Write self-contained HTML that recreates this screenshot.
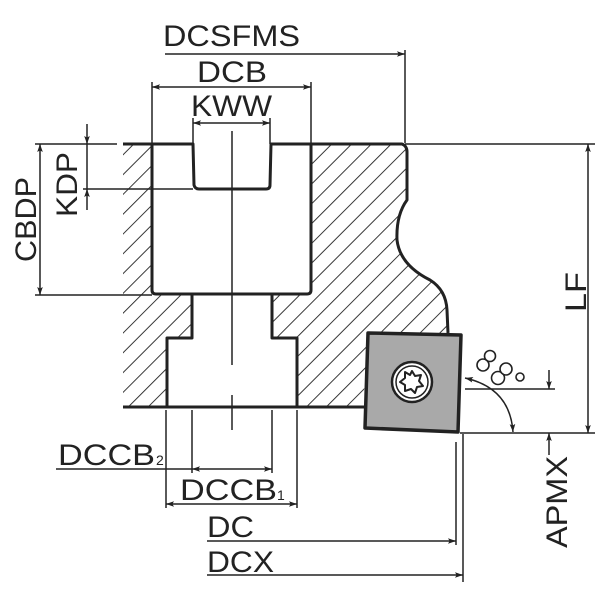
<!DOCTYPE html>
<html><head><meta charset="utf-8"><style>
html,body{margin:0;padding:0;background:#fff;}
svg{display:block;}
text{font-family:"Liberation Sans",sans-serif;fill:#222;}
</style></head><body>
<svg width="600" height="600" viewBox="0 0 600 600" xmlns="http://www.w3.org/2000/svg">
<defs>
<pattern id="h" patternUnits="userSpaceOnUse" width="14" height="14" patternTransform="rotate(45)">
<line x1="0" y1="0" x2="0" y2="14" stroke="#222" stroke-width="1.8"/>
</pattern>
<marker id="a" viewBox="0 0 10 10" refX="10" refY="5" markerWidth="10" markerHeight="8" orient="auto-start-reverse" markerUnits="userSpaceOnUse">
<path d="M0,1.5 L10,5 L0,8.5 L2,5 Z" fill="#222"/>
</marker>
</defs>

<path d="M123,144 L152,144 L152,294 L192,294 L192,338 L167,338 L167,407 L123,407 Z" fill="url(#h)"/>
<path d="M311,144 L402,144 Q407,146 407,152 L407,200 Q396,215 397,240 Q400,265 430,280 Q446,290 447,310 L448,333 L368,333 L363,407 L297,407 L297,338 L272,338 L272,294 L311,294 Z" fill="url(#h)"/>

<g fill="none" stroke="#222" stroke-width="3" stroke-linejoin="round">
<path d="M123,144 L193,144 L194,185 Q195,189 199,189 L266,189 Q270,189 270,185 L271,144 L402,144 Q407,146 407,152 L407,200 Q396,215 397,240 Q400,265 430,280 Q446,290 447,310 L448,333"/>
<path d="M152,144 L152,290 Q152,294 156,294 L307,294 Q311,294 311,290 L311,144"/>
<path d="M192,294 L192,338 L167,338 L167,407"/>
<path d="M272,294 L272,338 L297,338 L297,407"/>
<path d="M123,407 L365,407"/>
</g>

<path d="M368,333 L461,335 L458,432 L365,428 Z" fill="#a9a9a9" stroke="#222" stroke-width="3.5" stroke-linejoin="round"/>
<circle cx="412" cy="382" r="20" fill="#fff" stroke="#222" stroke-width="2.5"/>
<circle cx="412" cy="382" r="16" fill="none" stroke="#222" stroke-width="1.5"/>
<path d="M412,371 L415,376 L421,375 L419,381 L423,386 L417,387 L415,393 L411,389 L405,391 L405,385 L400,382 L405,378 L405,372 L410,375 Z" fill="none" stroke="#222" stroke-width="2" stroke-linejoin="round"/>

<g fill="#fff" stroke="#222" stroke-width="1.6">
<circle cx="483" cy="365" r="6"/><circle cx="490" cy="356" r="5.5"/>
<circle cx="498" cy="378" r="6.5"/><circle cx="506" cy="369" r="6"/>
<circle cx="520" cy="377" r="4"/>
</g>

<g stroke="#222" stroke-width="1.5" fill="none">
<line x1="232" y1="131" x2="232" y2="365"/>
<line x1="232" y1="395" x2="232" y2="430"/>
<line x1="165" y1="54" x2="405" y2="54" marker-end="url(#a)"/>
<line x1="405" y1="50" x2="405" y2="143"/>
<line x1="152" y1="87" x2="311" y2="87" marker-start="url(#a)" marker-end="url(#a)"/>
<line x1="152" y1="82" x2="152" y2="144"/>
<line x1="311" y1="82" x2="311" y2="144"/>
<line x1="193" y1="123" x2="270" y2="123" marker-start="url(#a)" marker-end="url(#a)"/>
<line x1="193" y1="118" x2="193" y2="144"/>
<line x1="270" y1="118" x2="270" y2="144"/>
<line x1="35" y1="144" x2="117" y2="144"/>
<line x1="35" y1="295" x2="152" y2="295"/>
<line x1="40" y1="144" x2="40" y2="295" marker-start="url(#a)" marker-end="url(#a)"/>
<line x1="83" y1="189" x2="193" y2="189"/>
<line x1="87" y1="124" x2="87" y2="144" marker-end="url(#a)"/>
<line x1="87" y1="210" x2="87" y2="189" marker-end="url(#a)"/>
<line x1="87" y1="144" x2="87" y2="189"/>
<line x1="405" y1="144" x2="595" y2="144"/>
<line x1="460" y1="433" x2="595" y2="433"/>
<line x1="588" y1="144" x2="588" y2="433" marker-start="url(#a)" marker-end="url(#a)"/>
<line x1="465" y1="389" x2="555" y2="389"/>
<line x1="549" y1="370" x2="549" y2="389" marker-end="url(#a)"/>
<line x1="549" y1="455" x2="549" y2="433" marker-end="url(#a)"/>
<path d="M465,378 Q510,388 513,432" marker-start="url(#a)" marker-end="url(#a)"/>
<line x1="192" y1="410" x2="192" y2="473"/>
<line x1="272" y1="410" x2="272" y2="473"/>
<line x1="56" y1="469" x2="192" y2="469"/>
<line x1="192" y1="469" x2="272" y2="469" marker-start="url(#a)" marker-end="url(#a)"/>
<line x1="166" y1="410" x2="166" y2="508"/>
<line x1="297" y1="410" x2="297" y2="508"/>
<line x1="166" y1="504" x2="297" y2="504" marker-start="url(#a)" marker-end="url(#a)"/>
<line x1="456" y1="442" x2="456" y2="545"/>
<line x1="463" y1="434" x2="463" y2="582"/>
<line x1="207" y1="541" x2="456" y2="541" marker-end="url(#a)"/>
<line x1="207" y1="575" x2="463" y2="575" marker-end="url(#a)"/>
</g>

<g font-size="30">
<text x="163" y="46" textLength="137" lengthAdjust="spacingAndGlyphs">DCSFMS</text>
<text x="197" y="82" textLength="70" lengthAdjust="spacingAndGlyphs">DCB</text>
<text x="191" y="116" textLength="81" lengthAdjust="spacingAndGlyphs">KWW</text>
<text transform="translate(36,262) rotate(-90)" textLength="85" lengthAdjust="spacingAndGlyphs">CBDP</text>
<text transform="translate(77,217) rotate(-90)" textLength="65" lengthAdjust="spacingAndGlyphs">KDP</text>
<text transform="translate(586,312) rotate(-90)" textLength="40" lengthAdjust="spacingAndGlyphs">LF</text>
<text transform="translate(567,548) rotate(-90)" textLength="92" lengthAdjust="spacingAndGlyphs">APMX</text>
<text x="58" y="465" textLength="97" lengthAdjust="spacingAndGlyphs">DCCB</text>
<text x="156" y="465" font-size="14">2</text>
<text x="180" y="500" textLength="97" lengthAdjust="spacingAndGlyphs">DCCB</text>
<text x="277" y="500" font-size="14">1</text>
<text x="207" y="537" textLength="47" lengthAdjust="spacingAndGlyphs">DC</text>
<text x="207" y="572" textLength="67" lengthAdjust="spacingAndGlyphs">DCX</text>
</g>
</svg>
</body></html>
